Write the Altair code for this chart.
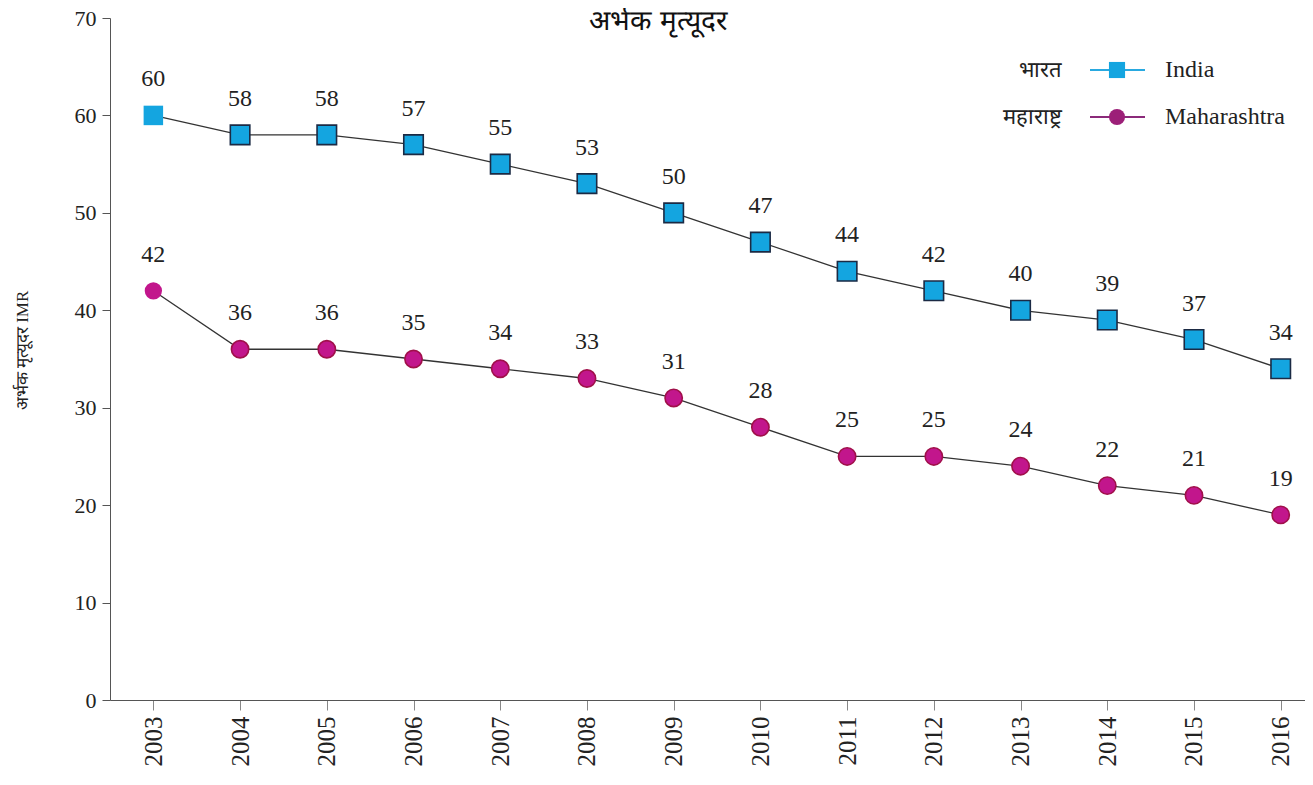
import altair as alt
import pandas as pd

years = [2003, 2004, 2005, 2006, 2007, 2008, 2009, 2010, 2011, 2012, 2013, 2014, 2015, 2016]
india = [60, 58, 58, 57, 55, 53, 50, 47, 44, 42, 40, 39, 37, 34]
maharashtra = [42, 36, 36, 35, 34, 33, 31, 28, 25, 25, 24, 22, 21, 19]
y_ticks = [0, 10, 20, 30, 40, 50, 60, 70]

title_text = "अर्भक मृत्यूदर"
y_title = "अर्भक मृत्यूदर  IMR"

df_i = pd.DataFrame({"year": years, "value": india, "series": "India"})
df_m = pd.DataFrame({"year": years, "value": maharashtra, "series": "Maharashtra"})

W, H = 1195, 682
SERIF = "Liberation Serif, Times New Roman, DejaVu Serif, serif"

xs = alt.X("year:Q", scale=alt.Scale(domain=[2002.5, 2016.28], nice=False, zero=False),
           axis=alt.Axis(values=years, format="d", labelAngle=-90, labelAlign="right",
                         labelBaseline="middle", labelFontSize=25, labelFont=SERIF,
                         labelColor="#222", tickSize=10, labelPadding=6, grid=False,
                         domainColor="#555", tickColor="#888", title=None))
ys = alt.Y("value:Q", scale=alt.Scale(domain=[0, 70], nice=False),
           axis=alt.Axis(values=y_ticks, labelFontSize=22, labelFont=SERIF, labelColor="#222",
                         tickSize=8, labelPadding=6, grid=False, domainColor="#555",
                         tickColor="#555", title=y_title, titleFont=SERIF, titleFontSize=17,
                         titleFontWeight="normal", titleColor="#222", titleAngle=-90,
                         titleX=-88, titleY=332, titleAlign="center", titleBaseline="middle"))

def series_layers(df, shape, fill, stroke, size):
    base = alt.Chart(df)
    line = base.mark_line(color="#333", strokeWidth=1.3).encode(x=xs, y=ys)
    pts = base.mark_point(shape=shape, filled=True, size=size, fill=fill, opacity=1,
                          stroke=stroke, strokeWidth=1.6).encode(
        x=xs, y=ys,
        strokeOpacity=alt.condition(alt.datum.year == 2003, alt.value(0), alt.value(1)))
    lab = base.mark_text(font=SERIF, fontSize=24, color="#222", dy=-36, baseline="middle").encode(
        x=xs, y=ys, text="value:Q")
    return [line, pts, lab]

layers = []
layers += series_layers(df_i, "square", "#14a5e0", "#1b2a44", 380)
layers += series_layers(df_m, "circle", "#c2168c", "#a0104a", 300)

# title
layers.append(alt.Chart(pd.DataFrame({"t": [title_text]})).mark_text(
    fontSize=28, color="#111", baseline="alphabetic", align="center").encode(
    x=alt.value(548), y=alt.value(12), text="t:N"))

# legend
leg_hi = ["भारत", "महाराष्ट्र"]
leg_en = ["India", "Maharashtra"]
leg_line = ["#29a9e0", "#8b2a7a"]
leg_fill = ["#14a5e0", "#9c1f78"]
leg_shape = ["square", "circle"]
leg_y = [52, 99]
for i in range(2):
    d = pd.DataFrame({"hi": [leg_hi[i]], "en": [leg_en[i]]})
    b = alt.Chart(d)
    layers.append(b.mark_text(fontSize=22, color="#222", align="right", baseline="middle").encode(
        x=alt.value(952), y=alt.value(leg_y[i]), text="hi:N"))
    layers.append(b.mark_rule(color=leg_line[i], strokeWidth=2).encode(
        x=alt.value(980), x2=alt.value(1035), y=alt.value(leg_y[i])))
    layers.append(b.mark_point(shape=leg_shape[i], filled=True, size=260, fill=leg_fill[i],
                               opacity=1).encode(x=alt.value(1007), y=alt.value(leg_y[i])))
    layers.append(b.mark_text(fontSize=24, font=SERIF, color="#222", align="left",
                              baseline="middle").encode(
        x=alt.value(1055), y=alt.value(leg_y[i]), text="en:N"))

chart = alt.layer(*layers).properties(
    width=W, height=H,
    autosize=alt.AutoSizeParams(type="none"),
    padding={"left": 102, "top": 10, "right": 0, "bottom": 70},
).configure_view(stroke=None)

chart.save("out.html", embed_options={"renderer": "svg", "actions": False})
